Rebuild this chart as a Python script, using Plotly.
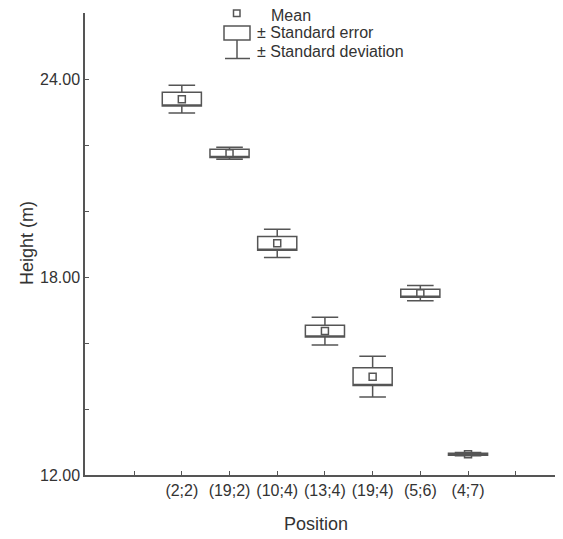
import plotly.graph_objects as go

categories = ["(2;2)", "(19;2)", "(10;4)", "(13;4)", "(19;4)", "(5;6)", "(4;7)"]
means = [23.39, 21.75, 19.02, 16.36, 14.98, 17.51, 12.63]
std_err = [0.21, 0.125, 0.21, 0.18, 0.27, 0.12, 0.03]
std_dev = [0.42, 0.18, 0.43, 0.42, 0.62, 0.23, 0.05]
y_ticks = [12, 18, 24]
y_ticktext = ["12.00", "18.00", "24.00"]

positions = list(range(1, len(categories) + 1))
q1 = [m - s for m, s in zip(means, std_err)]
q3 = [m + s for m, s in zip(means, std_err)]
lo = [m - s for m, s in zip(means, std_dev)]
hi = [m + s for m, s in zip(means, std_dev)]

LINE = "#555555"
TXT = "#333333"
FONT = "Liberation Sans, Arial, sans-serif"

fig = go.Figure()
fig.add_trace(go.Box(
    x=positions, q1=q1, median=q1, q3=q3, lowerfence=lo, upperfence=hi,
    width=0.82, whiskerwidth=0.68, fillcolor="white",
    line=dict(color=LINE, width=1.5), boxpoints=False, showlegend=False,
    hoverinfo="skip",
))
fig.add_trace(go.Scatter(
    x=positions, y=means, mode="markers",
    marker=dict(symbol="square-open", size=7, color=LINE, line=dict(width=1.5, color=LINE)),
    showlegend=False, hoverinfo="skip",
))

# page body adds an 8px offset; lay out in page pixels
OFF = 8
W, H = 563 - OFF, 539 - OFF
PLOT_L, PLOT_R, PLOT_T, PLOT_B = 85, 562, 13, 475  # page pixels
L = PLOT_L - OFF
T = PLOT_T - OFF
B = 539 - PLOT_B
R = W - (PLOT_R - OFF)
pw, ph = W - L - R, H - T - B

def px(x):
    return (x - PLOT_L) / pw

def py(y):
    return (PLOT_B - y) / ph

shapes = []
shapes.append(dict(type="rect", xref="paper", yref="paper", x0=px(233.5), x1=px(240), y0=py(16.5), y1=py(10),
                   line=dict(color=LINE, width=1.5)))
shapes.append(dict(type="rect", xref="paper", yref="paper", x0=px(224), x1=px(250), y0=py(40), y1=py(26),
                   line=dict(color=LINE, width=1.5)))
shapes.append(dict(type="line", xref="paper", yref="paper", x0=px(237), x1=px(237), y0=py(40), y1=py(58.5),
                   line=dict(color=LINE, width=1.5)))
shapes.append(dict(type="line", xref="paper", yref="paper", x0=px(225), x1=px(250), y0=py(58.5), y1=py(58.5),
                   line=dict(color=LINE, width=1.5)))

def ann(text, x, y, size=16, xanchor="left", angle=0):
    return dict(text=text, x=px(x), y=py(y), xref="paper", yref="paper", xanchor=xanchor, yanchor="middle",
                showarrow=False, textangle=angle, borderpad=0,
                font=dict(size=size, color=TXT, family=FONT))

annotations = [
    ann("Mean", 270, 16),
    ann("± Standard error", 256, 33),
    ann("± Standard deviation", 256, 51.5),
    ann("Position", 316, 524, size=18, xanchor="center"),
    ann("Height (m)", 27, 243, size=18, xanchor="center", angle=-90),
]

fig.update_layout(
    width=W, height=H,
    margin=dict(l=L, r=R, t=T, b=B, autoexpand=False),
    paper_bgcolor="white", plot_bgcolor="white",
    font=dict(family=FONT, color=TXT, size=16),
    shapes=shapes, annotations=annotations,
    hovermode=False,
    xaxis=dict(
        range=[-1.03, 8.97], showgrid=False, zeroline=False,
        tickvals=list(range(0, len(categories) + 2)),
        ticktext=[""] + categories + [""],
        ticks="inside", ticklen=4, tickcolor=LINE, tickwidth=1,
        showline=True, linecolor=LINE, linewidth=1.5,
        tickfont=dict(size=16, color=TXT),
    ),
    yaxis=dict(
        range=[12, 26], showgrid=False, zeroline=False,
        tickvals=y_ticks, ticktext=y_ticktext,
        ticks="inside", ticklen=4, tickcolor=LINE, tickwidth=1,
        minor=dict(dtick=2, tick0=12, ticks="inside", ticklen=4, tickcolor=LINE, showgrid=False),
        showline=True, linecolor=LINE, linewidth=1.5,
        tickfont=dict(size=16, color=TXT),
    ),
)

fig.write_html("out.html")
